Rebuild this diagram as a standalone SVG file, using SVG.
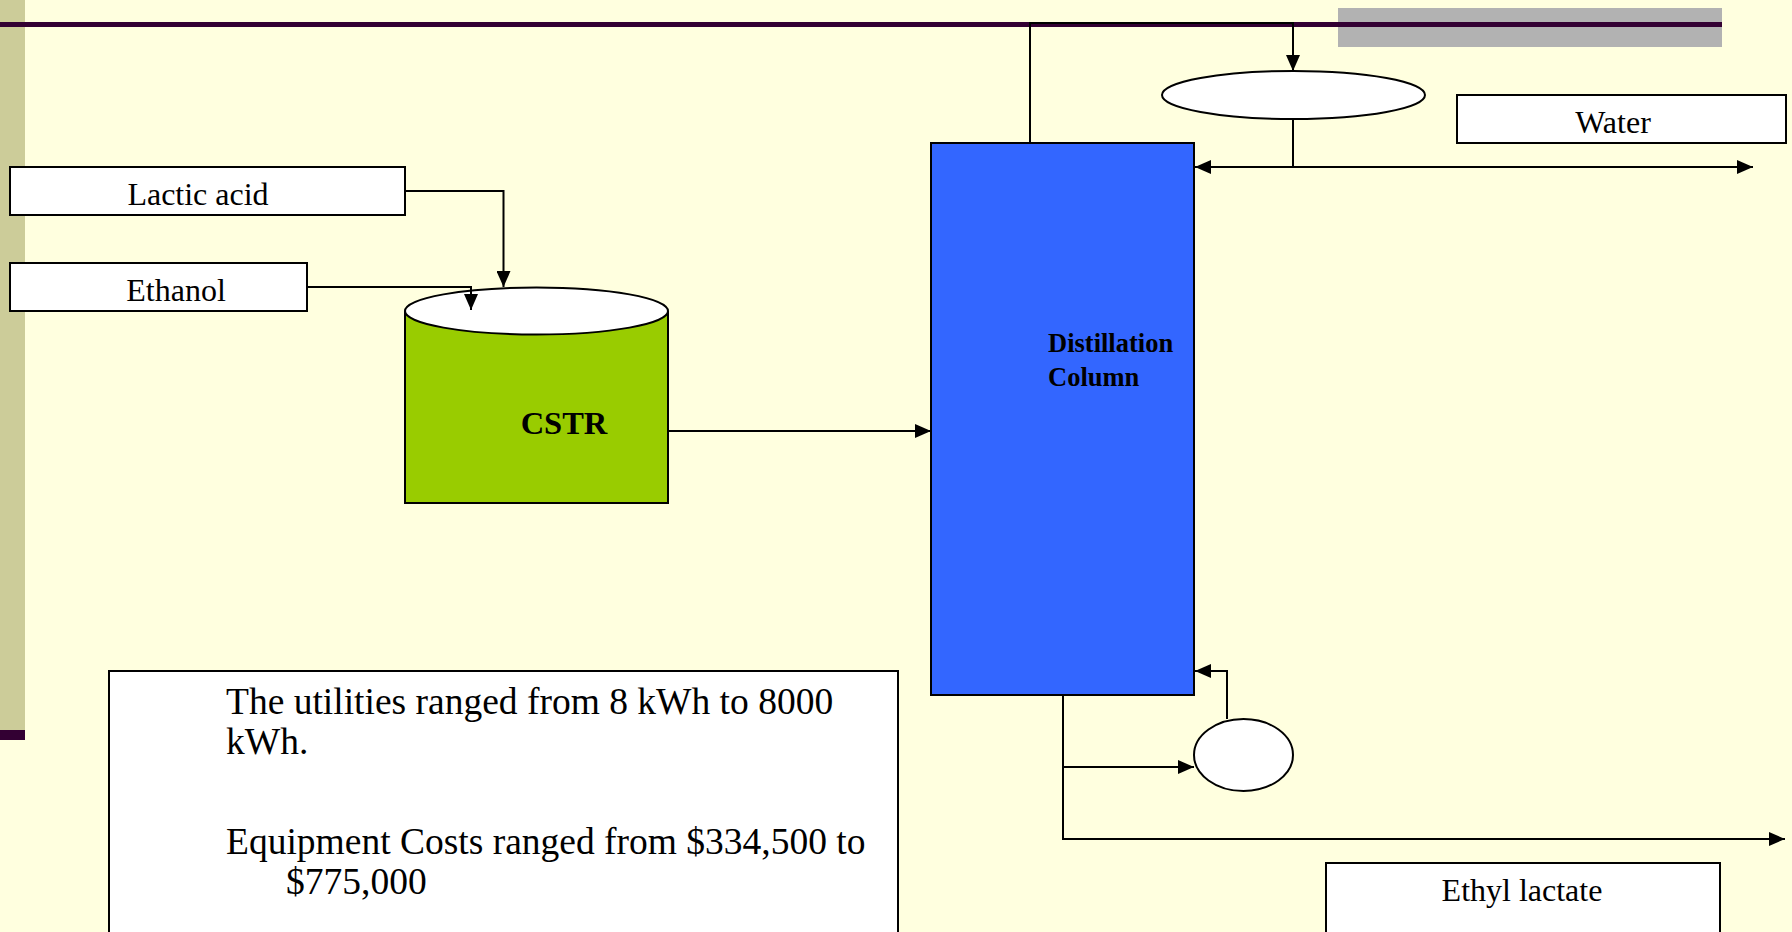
<svg xmlns="http://www.w3.org/2000/svg" width="1792" height="932" viewBox="0 0 1792 932">
<style>
.box{fill:#fff;stroke:#000;stroke-width:2}
.lbl{font-family:"Liberation Serif","Times New Roman",serif;font-size:32px;fill:#000}
.bold{font-family:"Liberation Serif","Times New Roman",serif;font-weight:bold;fill:#000}
.body{font-family:"Liberation Serif","Times New Roman",serif;font-size:37.5px;fill:#000}
.conn{fill:none;stroke:#000;stroke-width:2}
</style>
<defs>
<marker id="arr" viewBox="0 0 16 14" refX="16" refY="7" markerWidth="16" markerHeight="14" markerUnits="userSpaceOnUse" orient="auto-start-reverse">
<path d="M0,0 L16,7 L0,14 Z" fill="#000"/>
</marker>
</defs>
<rect x="0" y="0" width="1792" height="932" fill="#FFFFDF"/>
<rect x="0" y="0" width="25" height="732" fill="#CCCC99"/>
<rect x="0" y="730" width="25" height="10" fill="#330033"/>
<rect x="1338" y="8" width="384" height="39" fill="#B2B2B2"/>
<rect x="0" y="22" width="1722" height="5" fill="#330033"/>

<g id="lactic-acid">
<rect class="box" x="10" y="167" width="395" height="48"/>
<text class="lbl" x="198" y="205" text-anchor="middle">Lactic acid</text>
</g>
<g id="ethanol">
<rect class="box" x="10" y="263" width="297" height="48"/>
<text class="lbl" x="176" y="301" text-anchor="middle">Ethanol</text>
</g>
<g id="cstr">
<path d="M405,311 L405,503 L668,503 L668,311" fill="#99CC00" stroke="#000" stroke-width="2"/>
<ellipse cx="536.5" cy="311" rx="131.5" ry="23.5" fill="#fff" stroke="#000" stroke-width="2"/>
<text class="bold" x="564" y="434" font-size="32.5" text-anchor="middle">CSTR</text>
</g>
<g id="distillation-column">
<rect x="931" y="143" width="263" height="552" fill="#3366FF" stroke="#000" stroke-width="2"/>
<text class="bold" x="1048" y="352" font-size="26.5">Distillation</text>
<text class="bold" x="1048" y="386" font-size="26.5">Column</text>
</g>
<g id="condenser">
<ellipse cx="1293.5" cy="95" rx="131.5" ry="24" fill="#fff" stroke="#000" stroke-width="2"/>
</g>
<g id="reboiler">
<ellipse cx="1243.5" cy="755" rx="49.5" ry="36" fill="#fff" stroke="#000" stroke-width="2"/>
</g>
<g id="water">
<rect class="box" x="1457" y="95" width="329" height="48"/>
<text class="lbl" x="1613" y="133" text-anchor="middle">Water</text>
</g>
<g id="ethyl-lactate">
<rect class="box" x="1326" y="863" width="394" height="80"/>
<text class="lbl" x="1522" y="901" text-anchor="middle">Ethyl lactate</text>
</g>
<g id="notes">
<rect class="box" x="109" y="671" width="789" height="280"/>
<text class="body" x="226" y="714">The utilities ranged from 8 kWh to 8000</text>
<text class="body" x="226" y="754">kWh.</text>
<text class="body" x="226" y="854">Equipment Costs ranged from $334,500 to</text>
<text class="body" x="286" y="894">$775,000</text>
</g>

<g id="connectors">
<path class="conn" d="M405,191 L503.5,191 L503.5,287" marker-end="url(#arr)"/>
<path class="conn" d="M307,287 L471,287 L471,310" marker-end="url(#arr)"/>
<path class="conn" d="M668,431 L931,431" marker-end="url(#arr)"/>
<path class="conn" d="M1030,143 L1030,23 L1293,23 L1293,71" marker-end="url(#arr)"/>
<path class="conn" d="M1293,119 L1293,167"/>
<path class="conn" d="M1195,167 L1753,167" marker-start="url(#arr)" marker-end="url(#arr)"/>
<path class="conn" d="M1227,719 L1227,671 L1195,671" marker-end="url(#arr)"/>
<path class="conn" d="M1063,695 L1063,839 L1785,839" marker-end="url(#arr)"/>
<path class="conn" d="M1063,767 L1194,767" marker-end="url(#arr)"/>
</g>
</svg>
